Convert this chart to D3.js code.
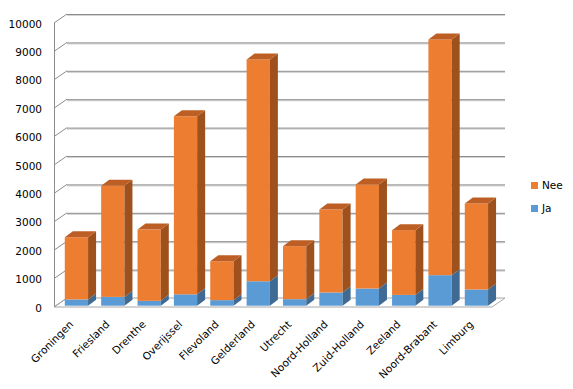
<!DOCTYPE html>
<html>
<head>
<meta charset="utf-8">
<script src="https://cdn.jsdelivr.net/npm/d3@7"></script>
<style>
  body { margin: 0; background: white; }
  text { font-family: "DejaVu Sans", sans-serif; font-size: 10.5px; fill: #000; }
</style>
</head>
<body>
<div id="chart"></div>
<script>
// data
var provinces = ["Groningen", "Friesland", "Drenthe", "Overijssel", "Flevoland", "Gelderland",
                 "Utrecht", "Noord-Holland", "Zuid-Holland", "Zeeland", "Noord-Brabant", "Limburg"];
var ja  = [220, 310, 170, 400, 195, 860, 230, 465, 605, 380, 1075, 570];
var nee = [2190, 3910, 2510, 6270, 1370, 7810, 1865, 2920, 3665, 2280, 8300, 3030];
var ticks = [0, 1000, 2000, 3000, 4000, 5000, 6000, 7000, 8000, 9000, 10000];
var seriesNames = ["Nee", "Ja"];

var width = 573, height = 389;
var wallDx = 13, wallDy = -9;   // depth of the walls
var barDx = 8, barDy = -6;      // depth of a bar
var barOffX = 1.5, barOffY = -1.3;

var colors = {
  Ja:  { front: "#5b9bd5", side: "#3e6a93", top: "#4a7fb0" },
  Nee: { front: "#ed7d31", side: "#9e511d", top: "#bd5f24" }
};

var svg = d3.select("#chart").append("svg")
  .attr("width", width).attr("height", height);

var y = d3.scaleLinear().domain([0, 10000]).range([307, 23]);
var x = d3.scaleBand().domain(provinces).range([56.75, 493.1])
  .paddingInner(0.36).paddingOuter(0.18);

var xLeft = 54, xRight = 492;

// walls / gridlines
var grid = svg.append("g");
ticks.forEach(function(t) {
  var yy = y(t) + wallDy;
  if (t > 0) {
    grid.append("line")
      .attr("x1", xLeft + wallDx).attr("x2", xRight + wallDx)
      .attr("y1", yy + 1.5).attr("y2", yy + 1.5)
      .attr("stroke", "#d4d4d4").attr("stroke-width", 1.2);
    grid.append("line")
      .attr("x1", xLeft + wallDx).attr("x2", xRight + wallDx)
      .attr("y1", yy + 0.5).attr("y2", yy + 0.5)
      .attr("stroke", "#8c8c8c").attr("stroke-width", 1);
  }
  grid.append("line")
    .attr("x1", xLeft).attr("y1", y(t))
    .attr("x2", xLeft + wallDx).attr("y2", yy)
    .attr("stroke", "#8c8c8c").attr("stroke-width", 1);
});
grid.append("line")
  .attr("x1", xLeft + 0.5).attr("x2", xLeft + 0.5)
  .attr("y1", y(0)).attr("y2", y(10000))
  .attr("stroke", "#8c8c8c");
// floor
grid.append("path")
  .attr("d", "M" + xLeft + "," + y(0) + "L" + xRight + "," + y(0) +
             "L" + (xRight + wallDx) + "," + (y(0) + wallDy) +
             "L" + (xLeft + wallDx) + "," + (y(0) + wallDy) + "Z")
  .attr("fill", "none").attr("stroke", "#a6a6a6").attr("stroke-width", 1);

// tick labels
svg.append("g").selectAll("text").data(ticks).enter().append("text")
  .attr("x", 42).attr("y", function(d) { return y(d) + 1; })
  .attr("dy", "0.35em")
  .attr("text-anchor", "end")
  .text(function(d) { return d; });

// bars
function box(g, x0, w, v0, v1, c, drawTop) {
  var xa = x0 + barOffX, xb = xa + w;
  var ya = y(v0) + barOffY, yb = y(v1) + barOffY;
  g.append("rect").attr("x", xa).attr("y", yb).attr("width", w).attr("height", ya - yb)
    .attr("fill", c.front);
  g.append("path")
    .attr("d", "M" + xb + "," + ya + "L" + (xb + barDx) + "," + (ya + barDy) +
               "L" + (xb + barDx) + "," + (yb + barDy) + "L" + xb + "," + yb + "Z")
    .attr("fill", c.side);
  if (drawTop) {
    g.append("path")
      .attr("d", "M" + xa + "," + yb + "L" + xb + "," + yb +
                 "L" + (xb + barDx) + "," + (yb + barDy) + "L" + (xa + barDx) + "," + (yb + barDy) + "Z")
      .attr("fill", c.top);
  }
}

var bars = svg.append("g");
provinces.forEach(function(p, i) {
  var g = bars.append("g");
  box(g, x(p), x.bandwidth(), 0, ja[i], colors.Ja, false);
  box(g, x(p), x.bandwidth(), ja[i], ja[i] + nee[i], colors.Nee, true);
});

// category labels
svg.append("g").selectAll("text").data(provinces).enter().append("text")
  .attr("text-anchor", "end")
  .attr("transform", function(d) {
    return "translate(" + (x(d) + x.bandwidth() / 2 - 1) + "," + 325 + ") rotate(-45)";
  })
  .text(function(d) { return d; });

// legend
var legend = svg.append("g");
seriesNames.forEach(function(s, i) {
  legend.append("rect").attr("x", 531).attr("y", 182 + i * 23)
    .attr("width", 7).attr("height", 7).attr("fill", colors[s].front);
  legend.append("text").attr("x", 542).attr("y", 185.5 + i * 23)
    .attr("dy", "0.35em").text(s);
});
</script>
</body>
</html>
